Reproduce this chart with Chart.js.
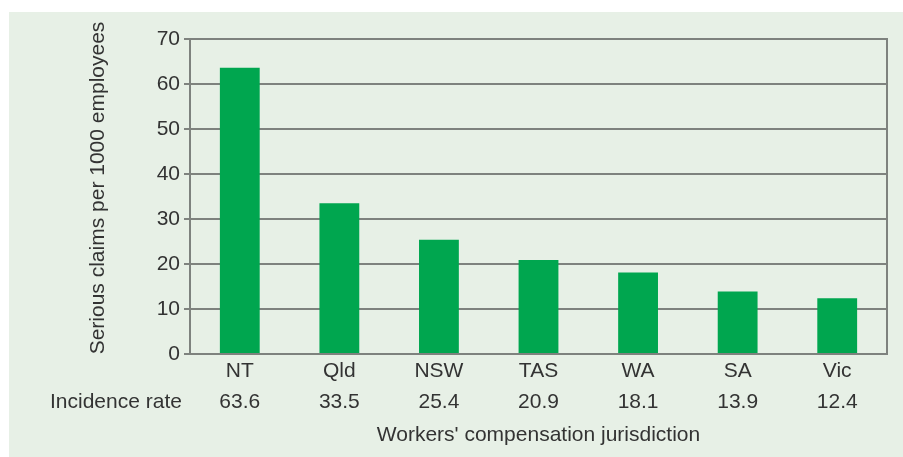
<!DOCTYPE html>
<html>
<head>
<meta charset="utf-8">
<script src="https://cdn.jsdelivr.net/npm/chart.js@4/dist/chart.umd.min.js"></script>
<style>
  html, body { margin: 0; padding: 0; background: #ffffff; }
  canvas { display: block; }
</style>
</head>
<body>
<canvas id="myChart" width="903" height="457"></canvas>
<script>
const jurisdictions = ['NT', 'Qld', 'NSW', 'TAS', 'WA', 'SA', 'Vic'];
const incidenceRates = [63.6, 33.5, 25.4, 20.9, 18.1, 13.9, 12.4];
const yTicks = [0, 10, 20, 30, 40, 50, 60, 70];

const textColor = '#333333';
const gridColor = '#7e827e';
const panelColor = '#e7f0e6';
const fontFamily = '"Liberation Sans", Arial, sans-serif';

// light green panel, right border, row caption and rotated y title
const decorations = {
    id: 'decorations',
    beforeDraw(chart) {
        const ctx = chart.ctx;
        ctx.save();
        ctx.fillStyle = panelColor;
        ctx.fillRect(9, 12, chart.width - 9, chart.height - 12);
        ctx.restore();
    },
    afterDraw(chart) {
        const ctx = chart.ctx;
        const area = chart.chartArea;
        ctx.save();
        ctx.strokeStyle = gridColor;
        ctx.lineWidth = 2;
        ctx.beginPath();
        ctx.moveTo(area.right, area.top - 1);
        ctx.lineTo(area.right, area.bottom + 1);
        ctx.stroke();

        ctx.fillStyle = textColor;
        ctx.font = '21px ' + fontFamily;
        ctx.textAlign = 'left';
        ctx.textBaseline = 'middle';
        ctx.fillText('Incidence rate', 50, area.bottom + 48);

        ctx.translate(98, 188);
        ctx.rotate(-Math.PI / 2);
        ctx.textAlign = 'center';
        ctx.fillText('Serious claims per 1000 employees', 0, 0);
        ctx.restore();
    }
};

const ctx = document.getElementById('myChart').getContext('2d');
const myChart = new Chart(ctx, {
    type: 'bar',
    data: {
        labels: jurisdictions.map((j, i) => [j, incidenceRates[i].toFixed(1)]),
        datasets: [{
            label: 'Incidence rate',
            data: incidenceRates,
            backgroundColor: '#00a64f',
            borderWidth: 0,
            barPercentage: 0.4,
            categoryPercentage: 1.0
        }]
    },
    options: {
        responsive: false,
        animation: false,
        layout: {
            padding: { left: 0, top: 39, right: 16, bottom: 9 }
        },
        plugins: {
            legend: { display: false },
            tooltip: { enabled: false }
        },
        scales: {
            x: {
                grid: { display: false, drawTicks: false },
                border: { display: false },
                ticks: {
                    color: textColor,
                    padding: 2,
                    font: { family: fontFamily, size: 21, lineHeight: 1.476 }
                },
                title: {
                    display: true,
                    text: "Workers' compensation jurisdiction",
                    color: textColor,
                    padding: { top: 0, bottom: 0 },
                    font: { family: fontFamily, size: 21 }
                },
                afterFit(scale) { scale.height = 94; }
            },
            y: {
                min: 0,
                max: 70,
                afterBuildTicks(scale) {
                    scale.ticks = yTicks.map(v => ({ value: v }));
                },
                grid: {
                    color: gridColor,
                    lineWidth: 2,
                    tickLength: 6
                },
                border: { display: true, color: gridColor, width: 2 },
                ticks: {
                    color: textColor,
                    padding: 4,
                    font: { family: fontFamily, size: 21 }
                },
                afterFit(scale) { scale.width = 190; }
            }
        }
    },
    plugins: [decorations]
});
</script>
</body>
</html>
